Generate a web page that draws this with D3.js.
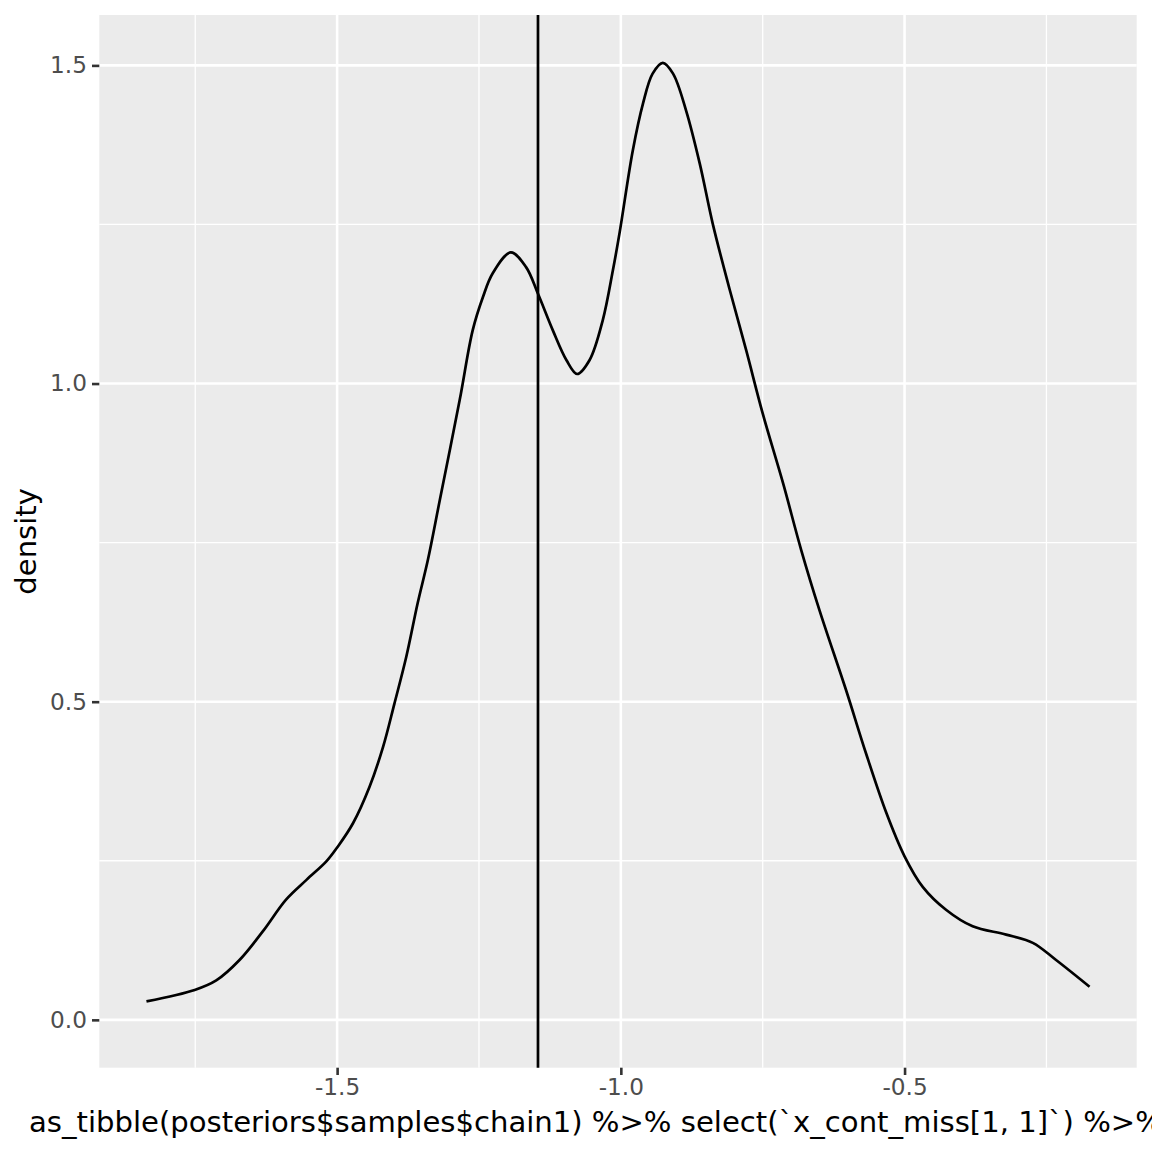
<!DOCTYPE html>
<html>
<head>
<meta charset="utf-8">
<script src="https://cdn.jsdelivr.net/npm/d3@7"></script>
<style>
  body { margin: 0; background: #fff; }
  svg { display: block; font-family: "DejaVu Sans", sans-serif; }
</style>
</head>
<body>
<svg id="chart"></svg>
<script>
// density curve: x values and density values
const densityX = [-1.836, -1.751, -1.713, -1.672, -1.631, -1.590, -1.554, -1.519, -1.499, -1.472,
  -1.443, -1.419, -1.399, -1.378, -1.358, -1.340, -1.319, -1.284, -1.261, -1.243,
  -1.226, -1.194, -1.167, -1.146, -1.120, -1.096, -1.077, -1.055, -1.032, -1.014,
  -1.002, -0.979, -0.961, -0.944, -0.926, -0.908, -0.885, -0.861, -0.838, -0.808,
  -0.779, -0.750, -0.714, -0.682, -0.650, -0.603, -0.568, -0.532, -0.500, -0.468,
  -0.427, -0.380, -0.321, -0.274, -0.233, -0.174];
const densityY = [0.029, 0.047, 0.062, 0.094, 0.139, 0.189, 0.220, 0.249, 0.272, 0.309,
  0.366, 0.429, 0.497, 0.571, 0.655, 0.723, 0.817, 0.974, 1.084, 1.136,
  1.173, 1.206, 1.183, 1.141, 1.084, 1.037, 1.015, 1.037, 1.099, 1.178,
  1.238, 1.366, 1.440, 1.487, 1.504, 1.487, 1.429, 1.346, 1.251, 1.147,
  1.052, 0.953, 0.843, 0.738, 0.644, 0.518, 0.419, 0.325, 0.257, 0.209,
  0.173, 0.147, 0.134, 0.121, 0.094, 0.052];

// vertical reference line
const vlineX = -1.146;

const xTicks = [-1.5, -1.0, -0.5];
const xMinor = [-1.75, -1.25, -0.75, -0.25];
const yTicks = [0.0, 0.5, 1.0, 1.5];
const yMinor = [0.25, 0.75, 1.25];

const xTitle = "as_tibble(posteriors$samples$chain1) %>% select(`x_cont_miss[1, 1]`) %>%";
const yTitle = "density";

const width = 1152, height = 1152;
const margin = { top: 15, right: 15.3, bottom: 84.3, left: 99.3 };

const svg = d3.select("#chart")
    .attr("width", width)
    .attr("height", height);

// ggplot style 5% expansion
const xExt = d3.extent(densityX);
const xPad = (xExt[1] - xExt[0]) * 0.05;
const yMax = d3.max(densityY);
const yPad = yMax * 0.05;

const x = d3.scaleLinear()
    .domain([xExt[0] - xPad, xExt[1] + xPad])
    .range([margin.left, width - margin.right]);
const y = d3.scaleLinear()
    .domain([-yPad, yMax + yPad])
    .range([height - margin.bottom, margin.top]);

// panel
svg.append("rect")
    .attr("x", margin.left)
    .attr("y", margin.top)
    .attr("width", width - margin.left - margin.right)
    .attr("height", height - margin.top - margin.bottom)
    .attr("fill", "#EBEBEB");

const grid = svg.append("g");
// minor grid
grid.selectAll(".xminor").data(xMinor).enter().append("line")
    .attr("x1", d => x(d)).attr("x2", d => x(d))
    .attr("y1", margin.top).attr("y2", height - margin.bottom)
    .attr("stroke", "#fff").attr("stroke-width", 1.3);
grid.selectAll(".yminor").data(yMinor).enter().append("line")
    .attr("y1", d => y(d)).attr("y2", d => y(d))
    .attr("x1", margin.left).attr("x2", width - margin.right)
    .attr("stroke", "#fff").attr("stroke-width", 1.3);
// major grid
grid.selectAll(".xmajor").data(xTicks).enter().append("line")
    .attr("x1", d => x(d)).attr("x2", d => x(d))
    .attr("y1", margin.top).attr("y2", height - margin.bottom)
    .attr("stroke", "#fff").attr("stroke-width", 2.6);
grid.selectAll(".ymajor").data(yTicks).enter().append("line")
    .attr("y1", d => y(d)).attr("y2", d => y(d))
    .attr("x1", margin.left).attr("x2", width - margin.right)
    .attr("stroke", "#fff").attr("stroke-width", 2.6);

// density line
const line = d3.line()
    .x((d, i) => x(densityX[i]))
    .y(d => y(d))
    .curve(d3.curveCatmullRom.alpha(0.5));

svg.append("path")
    .datum(densityY)
    .attr("d", line)
    .attr("fill", "none")
    .attr("stroke", "#000")
    .attr("stroke-width", 2.7)
    .attr("stroke-linejoin", "round");

// vline
svg.append("line")
    .attr("x1", x(vlineX)).attr("x2", x(vlineX))
    .attr("y1", margin.top).attr("y2", height - margin.bottom)
    .attr("stroke", "#000")
    .attr("stroke-width", 2.7);

// axes
const xAxis = svg.append("g")
    .attr("transform", `translate(0,${height - margin.bottom})`)
    .call(d3.axisBottom(x).tickValues(xTicks).tickFormat(d3.format(".1f")).tickSize(7.3).tickPadding(4));
const yAxis = svg.append("g")
    .attr("transform", `translate(${margin.left},0)`)
    .call(d3.axisLeft(y).tickValues(yTicks).tickFormat(d3.format(".1f")).tickSize(7.3).tickPadding(5));

[xAxis, yAxis].forEach(a => {
    a.select(".domain").remove();
    a.selectAll(".tick line").attr("stroke", "#333333").attr("stroke-width", 2.6);
    a.selectAll(".tick text")
        .attr("fill", "#4D4D4D")
        .style("font-size", "23.2px")
        .style("font-family", "DejaVu Sans, sans-serif");
});
// minus sign as hyphen like ggplot
xAxis.selectAll(".tick text").text(d => d3.format(".1f")(d).replace("−", "-"));

// titles
svg.append("text")
    .attr("x", 29)
    .attr("y", 1131.5)
    .attr("fill", "#000")
    .style("font-size", "29.1px")
    .text(xTitle);

svg.append("text")
    .attr("transform", `translate(36,${(margin.top + height - margin.bottom) / 2}) rotate(-90)`)
    .attr("text-anchor", "middle")
    .attr("fill", "#000")
    .style("font-size", "29.1px")
    .text(yTitle);
</script>
</body>
</html>
